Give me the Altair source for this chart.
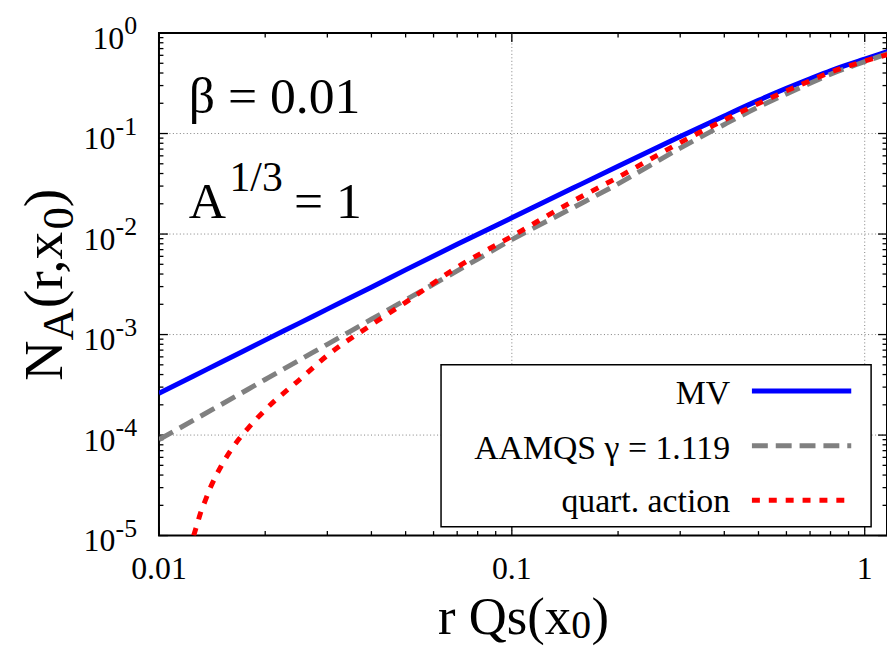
import altair as alt
import pandas as pd

# ---------------- data ----------------
r_mv = [0.01, 0.0125, 0.015, 0.02, 0.025, 0.03, 0.04, 0.05, 0.07, 0.1,
        0.15, 0.2, 0.3, 0.4, 0.5, 0.6, 0.7, 0.8, 1.0, 1.16]
n_mv = [2.6e-4, 3.85e-4, 5.3e-4, 8.8e-4, 1.30e-3, 1.79e-3, 2.96e-3, 4.4e-3, 7.9e-3, 0.0145,
        0.029, 0.0473, 0.0933, 0.1496, 0.2138, 0.2818, 0.3508, 0.4217, 0.5495, 0.653]

r_aamqs = [0.01, 0.0125, 0.015, 0.02, 0.025, 0.03, 0.04, 0.05, 0.07, 0.1,
           0.15, 0.2, 0.3, 0.4, 0.5, 0.6, 0.7, 0.8, 1.0, 1.16]
n_aamqs = [9.0e-5, 1.40e-4, 2.01e-4, 3.57e-4, 5.57e-4, 8.0e-4, 1.42e-3, 2.21e-3, 4.3e-3, 8.8e-3,
           0.0185, 0.0316, 0.0716, 0.123, 0.1837, 0.248, 0.316, 0.389, 0.519, 0.624]

r_quart = [0.01254, 0.0128, 0.0131, 0.0135, 0.014, 0.015, 0.016, 0.018, 0.02, 0.025,
           0.03, 0.04, 0.05, 0.07, 0.1, 0.15, 0.2, 0.3, 0.4, 0.5, 0.6, 0.7, 0.8, 1.0, 1.16]
n_quart = [1.0e-5, 1.26e-5, 1.66e-5, 2.19e-5, 3.02e-5, 4.9e-5, 7.1e-5, 1.2e-4, 1.78e-4, 3.55e-4,
           6.2e-4, 1.25e-3, 2.09e-3, 4.68e-3, 9.5e-3, 0.0215, 0.0367, 0.0813, 0.1365, 0.199, 0.266,
           0.335, 0.407, 0.525, 0.61]

x_major = [0.01, 0.1, 1.0]
x_major_labels = ["0.01", "0.1", "1"]
x_minor = [0.02, 0.03, 0.04, 0.05, 0.06, 0.07, 0.08, 0.09,
           0.2, 0.3, 0.4, 0.5, 0.6, 0.7, 0.8, 0.9]
y_major = [1.0, 1e-1, 1e-2, 1e-3, 1e-4, 1e-5]
y_exponents = ["0", "-1", "-2", "-3", "-4", "-5"]
y_minor = [k * 10.0 ** d for d in range(-5, 0) for k in range(2, 10)]
x_grid = [0.1, 1.0]
y_grid = [1e-1, 1e-2, 1e-3, 1e-4]

legend_labels = ["MV", "AAMQS γ = 1.119", "quart. action"]
colors = ["#0000ff", "#808080", "#ff0000"]

# ---------------- layout ----------------
W, H = 733, 506
FONT = "Liberation Serif"
xs = alt.Scale(type="log", domain=[0.01, 1.1565], nice=False)
ys = alt.Scale(type="log", domain=[1e-5, 1.0], nice=False)

one = pd.DataFrame({"a": [0]})


def X(field="v"):
    return alt.X(f"{field}:Q", scale=xs, axis=None)


def Y(field="v"):
    return alt.Y(f"{field}:Q", scale=ys, axis=None)


layers = []

# grid
GRID = dict(color="#808080", strokeWidth=1, strokeDash=[1, 2.5])
layers.append(alt.Chart(pd.DataFrame({"v": y_grid})).mark_rule(**GRID).encode(
    y=Y(), x=alt.value(0), x2=alt.value(W)))
layers.append(alt.Chart(pd.DataFrame({"v": x_grid})).mark_rule(**GRID).encode(
    x=X(), y=alt.value(0), y2=alt.value(H)))

# ticks (inward, mirrored)
for vals, ln in [(y_major, 9), (y_minor, 4.5)]:
    d = pd.DataFrame({"v": vals})
    layers.append(alt.Chart(d).mark_rule(color="black", strokeWidth=1.3).encode(
        y=Y(), x=alt.value(0), x2=alt.value(ln)))
    layers.append(alt.Chart(d).mark_rule(color="black", strokeWidth=1.3).encode(
        y=Y(), x=alt.value(W - ln), x2=alt.value(W)))
for vals, ln in [(x_major, 9), (x_minor, 4.5)]:
    d = pd.DataFrame({"v": vals})
    layers.append(alt.Chart(d).mark_rule(color="black", strokeWidth=1.3).encode(
        x=X(), y=alt.value(H - ln), y2=alt.value(H)))
    layers.append(alt.Chart(d).mark_rule(color="black", strokeWidth=1.3).encode(
        x=X(), y=alt.value(0), y2=alt.value(ln)))

# curves
series = [
    (r_mv, n_mv, colors[0], None),
    (r_aamqs, n_aamqs, colors[1], [16, 8]),
    (r_quart, n_quart, colors[2], [8, 9]),
]
for rr, nn, col, dash in series:
    kw = dict(color=col, strokeWidth=5, clip=True, interpolate="monotone")
    if dash:
        kw["strokeDash"] = dash
    layers.append(alt.Chart(pd.DataFrame({"r": rr, "n": nn})).mark_line(**kw).encode(
        x=X("r"), y=Y("n"), order="r:Q"))

# x tick labels
layers.append(alt.Chart(pd.DataFrame({"v": x_major, "t": x_major_labels})).mark_text(
    font=FONT, fontSize=32, align="center", baseline="alphabetic").encode(
    x=X(), y=alt.value(H + 44), text="t:N"))

# y tick labels: "10" with superscript exponent
ydf = pd.DataFrame({"v": y_major, "e": y_exponents})
layers.append(alt.Chart(ydf).mark_text(
    font=FONT, fontSize=26, align="right", baseline="alphabetic", dy=1).encode(
    y=Y(), x=alt.value(-22), text="e:N"))
layers.append(alt.Chart(ydf).transform_filter("datum.e == '0'").mark_text(
    font=FONT, fontSize=32, align="right", baseline="alphabetic", dy=16).encode(
    y=Y(), x=alt.value(-35), text=alt.value("10")))
layers.append(alt.Chart(ydf).transform_filter("datum.e != '0'").mark_text(
    font=FONT, fontSize=32, align="right", baseline="alphabetic", dy=16).encode(
    y=Y(), x=alt.value(-44), text=alt.value("10")))


def txt(s, x, y, size, align="left", angle=None):
    kw = dict(font=FONT, fontSize=size, align=align, baseline="alphabetic")
    if angle is not None:
        kw["angle"] = angle
    return alt.Chart(one).mark_text(**kw).encode(
        x=alt.value(x), y=alt.value(y), text=alt.value(s))


# annotations
layers.append(txt("β = 0.01", 30, 81, 52))
layers.append(txt("A", 30, 186, 52))
layers.append(txt("1/3", 71, 159, 42))
layers.append(txt("= 1", 136, 186, 52))

# legend box
layers.append(alt.Chart(one).mark_rect(fill="white", stroke="black", strokeWidth=1.5).encode(
    x=alt.value(284), x2=alt.value(717), y=alt.value(334), y2=alt.value(497)))
leg_y = [374, 429, 482]
sample_y = [360.5, 415.5, 470.5]
dashes = [None, [16, 8], [8, 9]]
for lab, ty, sy, col, dash in zip(legend_labels, leg_y, sample_y, colors, dashes):
    layers.append(txt(lab, 575, ty, 34, align="right"))
    kw = dict(color=col, strokeWidth=5)
    if dash:
        kw["strokeDash"] = dash
    layers.append(alt.Chart(one).mark_rule(**kw).encode(
        x=alt.value(597), x2=alt.value(697), y=alt.value(sy)))

# x title: r Qs(x_0)
xt_base = 605
xt0 = 281
layers.append(txt("r Qs(x", xt0, xt_base, 53))
layers.append(txt("0", xt0 + 134, xt_base + 4, 40))
layers.append(txt(")", xt0 + 134 + 20.5, xt_base, 53))

# y title: N_A(r,x_0), rotated
bx = -98
y0 = 350
layers.append(txt("N", bx, y0, 56, angle=270))
layers.append(txt("A", bx + 11, y0 - 40.4, 45, angle=270))
layers.append(txt("(r,x", bx, y0 - 40.4 - 32.5, 56, angle=270))
layers.append(txt("0", bx + 11, y0 - 40.4 - 32.5 - 79.3, 45, angle=270))
layers.append(txt(")", bx, y0 - 40.4 - 32.5 - 79.3 - 22.5, 56, angle=270))

chart = alt.layer(*layers).properties(
    width=W, height=H,
    autosize=alt.AutoSizeParams(type="none"),
    padding={"left": 152, "top": 23, "right": 0, "bottom": 112},
    background="white",
).configure_view(stroke="black", strokeWidth=2)

chart.save("out.html", embed_options={"renderer": "svg", "actions": False})
